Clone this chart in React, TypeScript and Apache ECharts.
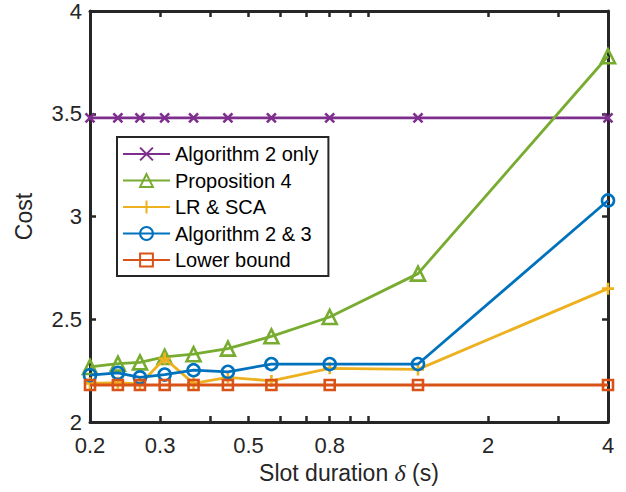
import React, { useEffect, useRef } from 'react';
import * as echarts from 'echarts';

const delta = [0.2, 0.235, 0.267, 0.308, 0.364, 0.444, 0.571, 0.8, 1.333, 4];
const alg2Only = [3.48, 3.48, 3.48, 3.48, 3.48, 3.48, 3.48, 3.48, 3.48, 3.48];
const prop4 = [2.268, 2.284, 2.29, 2.317, 2.33, 2.357, 2.417, 2.511, 2.722, 3.78];
const lrSca = [2.188, 2.191, 2.184, 2.309, 2.188, 2.217, 2.2, 2.261, 2.256, 2.649];
const alg23 = [2.228, 2.239, 2.217, 2.231, 2.252, 2.244, 2.282, 2.282, 2.282, 3.078];
const lowerBound = [2.18, 2.18, 2.18, 2.18, 2.18, 2.18, 2.18, 2.18, 2.18, 2.18];

const xTickValues = [0.2, 0.3, 0.4, 0.5, 0.6, 0.7, 0.8, 0.9, 1, 2, 3, 4];
const xLabelValues = [0.2, 0.3, 0.5, 0.8, 2, 4];

const seriesNames = ['Algorithm 2 only', 'Proposition 4', 'LR & SCA', 'Algorithm 2 & 3', 'Lower bound'];
const seriesValues = [alg2Only, prop4, lrSca, alg23, lowerBound];
const seriesColors = ['#7E2F8E', '#77AC30', '#EDB120', '#0072BD', '#D95319'];
const seriesSymbols = [
  'path://M0,0L10,10M10,0L0,10',
  'triangle',
  'path://M5,0L5,10M0,5L10,5',
  'circle',
  'rect',
];
const seriesSymbolSizes = [9, 14, 12, 12, 10];

const FONT = '"Liberation Sans", Arial, Helvetica, sans-serif';
const AX = '#262626';

export default function App() {
  const ref = useRef<HTMLDivElement>(null);
  useEffect(() => {
    if (!ref.current) return;
    const chart = echarts.init(ref.current, undefined, { renderer: 'svg' });
    const fmt = (v: number) => String(+Number(v).toPrecision(3));
    const baseX = {
      type: 'log' as const,
      logBase: 10,
      min: 0.2,
      max: 4,
      axisLine: { show: true, lineStyle: { color: AX, width: 3 } },
      splitLine: { show: false },
      minorTick: { show: false },
      axisTick: { show: true, inside: true, length: 6, lineStyle: { color: AX, width: 2.5 }, customValues: xTickValues },
    };
    const baseY = {
      type: 'value' as const,
      min: 2,
      max: 4,
      interval: 0.5,
      axisLine: { show: true, lineStyle: { color: AX, width: 3 } },
      splitLine: { show: false },
      axisTick: { show: true, inside: true, length: 6, lineStyle: { color: AX, width: 2.5 } },
    };
    chart.setOption({
      animation: false,
      backgroundColor: '#ffffff',
      textStyle: { fontFamily: FONT },
      grid: { left: 90, right: 18, top: 11, bottom: 70, containLabel: false },
      legend: {
        show: true,
        orient: 'vertical',
        left: 117,
        top: 137,
        data: seriesNames,
        selectedMode: false,
        itemWidth: 47,
        itemHeight: 16,
        itemGap: 6.5,
        padding: [7, 10, 6, 5],
        borderColor: AX,
        borderWidth: 2,
        backgroundColor: '#ffffff',
        textStyle: { fontSize: 20, color: '#000000', fontFamily: FONT, lineHeight: 20 },
      },
      xAxis: [
        {
          ...baseX,
          position: 'bottom',
          name: 'Slot duration {i|δ} (s)',
          nameLocation: 'middle',
          nameGap: 36,
          nameTextStyle: {
            fontSize: 23,
            color: AX,
            fontFamily: FONT,
            rich: {
              i: { fontStyle: 'italic', fontSize: 24, color: AX, fontFamily: '"Liberation Serif", "DejaVu Serif", serif' },
            },
          },
          axisLabel: {
            show: true,
            fontSize: 22,
            color: AX,
            margin: 12,
            customValues: xLabelValues,
            formatter: fmt,
          },
        },
        {
          ...baseX,
          position: 'top',
          axisLabel: { show: false },
        },
      ],
      yAxis: [
        {
          ...baseY,
          position: 'left',
          name: 'Cost',
          nameLocation: 'middle',
          nameGap: 55,
          nameTextStyle: { fontSize: 23, color: AX, fontFamily: FONT },
          axisLabel: { show: true, fontSize: 22, color: AX, margin: 8, formatter: (v: number) => String(v) },
        },
        {
          ...baseY,
          position: 'right',
          axisLabel: { show: false },
        },
      ],
      series: seriesNames.map((name, i) => ({
        name,
        type: 'line',
        xAxisIndex: 0,
        yAxisIndex: 0,
        data: delta.map((d, j) => [d, seriesValues[i][j]]),
        symbol: seriesSymbols[i],
        symbolSize: seriesSymbolSizes[i],
        showAllSymbol: true,
        clip: false,
        lineStyle: { color: seriesColors[i], width: 2.8 },
        itemStyle: { color: 'none', borderColor: seriesColors[i], borderWidth: 2.6 },
        emphasis: { disabled: true },
        z: 2 + i,
      })),
    });
    return () => chart.dispose();
  }, []);
  return <div ref={ref} style={{ width: 626, height: 492, position: 'absolute', left: 0, top: 0 }} />;
}
